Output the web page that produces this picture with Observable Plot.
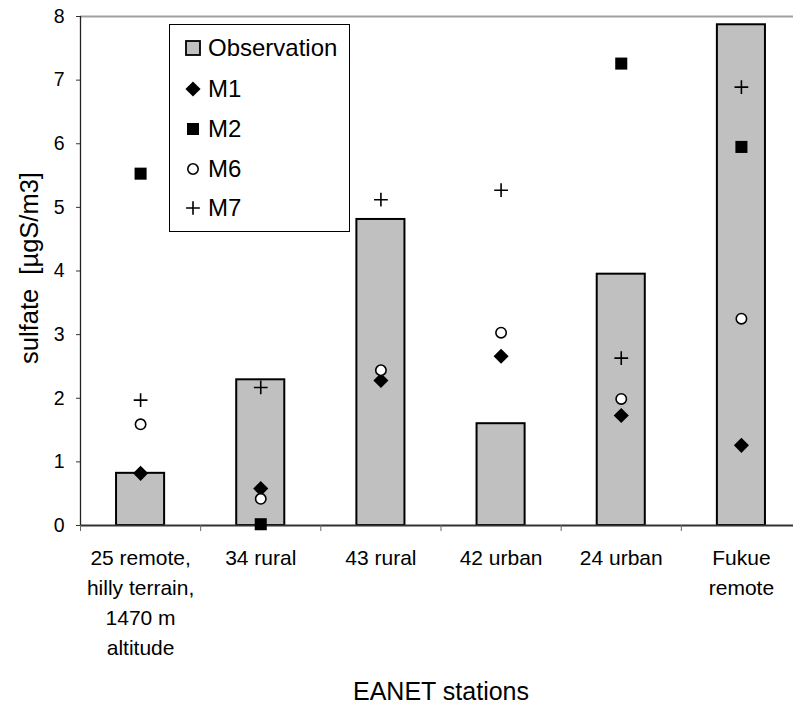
<!DOCTYPE html>
<html>
<head>
<meta charset="utf-8">
<script src="https://cdn.jsdelivr.net/npm/d3@7"></script>
<script src="https://cdn.jsdelivr.net/npm/@observablehq/plot@0.6"></script>
<style>
  html, body { margin: 0; padding: 0; background: white; }
  #wrap { position: relative; width: 793px; height: 703px; overflow: hidden; font-family: "Liberation Sans", Arial, sans-serif; }
  #legend { position: absolute; left: 169px; top: 24px; width: 181px; height: 208px; border: 1.5px solid #000; background: white; box-sizing: border-box; }
  .item { position: absolute; left: 0; height: 30px; display: flex; align-items: center; font-size: 24px; color: #000; }
  .item svg { width: 30px; height: 30px; margin-left: 8px; margin-right: 0px; }
</style>
</head>
<body>
<div id="wrap"></div>
<script>
const stations = ["25 remote,\nhilly terrain,\n1470 m\naltitude", "34 rural", "43 rural", "42 urban", "24 urban", "Fukue\nremote"];
const observation = [0.82, 2.29, 4.81, 1.60, 3.95, 7.87];
const m1 = [0.82, 0.58, 2.28, 2.66, 1.73, 1.26];
const m2 = [5.53, 0.02, null, null, 7.26, 5.95];
const m6 = [1.59, 0.42, 2.44, 3.03, 1.99, 3.25];
const m7 = [1.97, 2.17, 5.12, 5.27, 2.63, 6.89];
const yTicks = [0, 1, 2, 3, 4, 5, 6, 7, 8];
const seriesNames = ["Observation", "M1", "M2", "M6", "M7"];
const xLabel = "EANET stations";
const yLabel = "sulfate  [µgS/m3]";

const idx = stations.map((d, i) => i);
const rows = (vals) => idx.map(i => ({i, v: vals[i]})).filter(d => d.v != null);

const styles = {
  M1: {symbol: "diamond2", fill: "black", stroke: "none", r: 6.8, strokeWidth: 0},
  M2: {symbol: "square", fill: "black", stroke: "none", r: 6.8, strokeWidth: 0},
  M6: {symbol: "circle", fill: "white", stroke: "black", r: 5.2, strokeWidth: 1.6},
  M7: {symbol: "plus", fill: "none", stroke: "black", r: 4.5, strokeWidth: 1.6}
};
const seriesData = {M1: m1, M2: m2, M6: m6, M7: m7};

const dotMarks = Object.keys(seriesData).map(k =>
  Plot.dot(rows(seriesData[k]), {x: d => d.i + 0.5, y: "v", ...styles[k]})
);

const chart = Plot.plot({
  width: 793,
  height: 703,
  marginTop: 16,
  marginBottom: 178,
  marginLeft: 80,
  marginRight: 0,
  style: {fontFamily: "'Liberation Sans', Arial, sans-serif", background: "white", overflow: "visible"},
  x: {type: "linear", domain: [0, 6], range: [80, 801], axis: null},
  y: {type: "linear", domain: [0, 8], axis: null},
  marks: [
    Plot.ruleY([8], {stroke: "#a0a0a0", strokeWidth: 2}),
    Plot.rectY(rows(observation), {x1: d => d.i + 0.3, x2: d => d.i + 0.7, y1: 0, y2: "v", fill: "#c0c0c0", stroke: "black", strokeWidth: 2}),
    Plot.ruleX([0], {y1: 0, y2: 8, stroke: "#222", strokeWidth: 1.3}),
    Plot.ruleY([0], {stroke: "#333", strokeWidth: 1.8}),
    Plot.axisY({ticks: yTicks, tickSize: 4, tickPadding: 12, fontSize: 19.5, stroke: "#333", color: "#000", label: null, tickFormat: d => String(d)}),
    Plot.axisX({ticks: idx.concat([6]), tickSize: 6, tickFormat: () => "", stroke: "#666", label: null}),
    Plot.text(stations, {x: (d, i) => i + 0.5, y: 0, text: d => d, lineAnchor: "top", dy: 18.5, fontSize: 21, lineHeight: 30 / 21, fill: "black"}),
    Plot.text([xLabel], {frameAnchor: "bottom", dy: 174, dx: 4, lineAnchor: "bottom", fontSize: 25, fill: "black"}),
    Plot.text([yLabel], {frameAnchor: "left", textAnchor: "middle", rotate: -90, dx: -43, dy: -3, fontSize: 25.5, lineAnchor: "bottom", fill: "black"}),
    ...dotMarks
  ]
});

const wrap = document.getElementById("wrap");
wrap.appendChild(chart);

// Legend
const legend = document.createElement("div");
legend.id = "legend";
wrap.appendChild(legend);
const rowY = [47, 88, 128, 168, 207];
function symbolSvg(name) {
  const ns = "http://www.w3.org/2000/svg";
  const svg = document.createElementNS(ns, "svg");
  svg.setAttribute("viewBox", "-15 -15 30 30");
  if (name === "Observation") {
    const r = document.createElementNS(ns, "rect");
    r.setAttribute("x", -7); r.setAttribute("y", -7); r.setAttribute("width", 14); r.setAttribute("height", 14);
    r.setAttribute("fill", "#c0c0c0"); r.setAttribute("stroke", "black"); r.setAttribute("stroke-width", 1.8);
    svg.appendChild(r);
  } else {
    const s = styles[name];
    const symMap = {diamond2: d3.symbolDiamond2, square: d3.symbolSquare, circle: d3.symbolCircle, plus: d3.symbolPlus};
    const p = document.createElementNS(ns, "path");
    p.setAttribute("d", d3.symbol(symMap[s.symbol], s.r * s.r * Math.PI)());
    p.setAttribute("fill", s.fill);
    p.setAttribute("stroke", s.stroke);
    p.setAttribute("stroke-width", s.strokeWidth);
    svg.appendChild(p);
  }
  return svg;
}
seriesNames.forEach((name, k) => {
  const item = document.createElement("div");
  item.className = "item";
  item.style.top = (rowY[k] - 24 - 15) + "px";
  item.appendChild(symbolSvg(name));
  const span = document.createElement("span");
  span.textContent = name;
  item.appendChild(span);
  legend.appendChild(item);
});
</script>
</body>
</html>
